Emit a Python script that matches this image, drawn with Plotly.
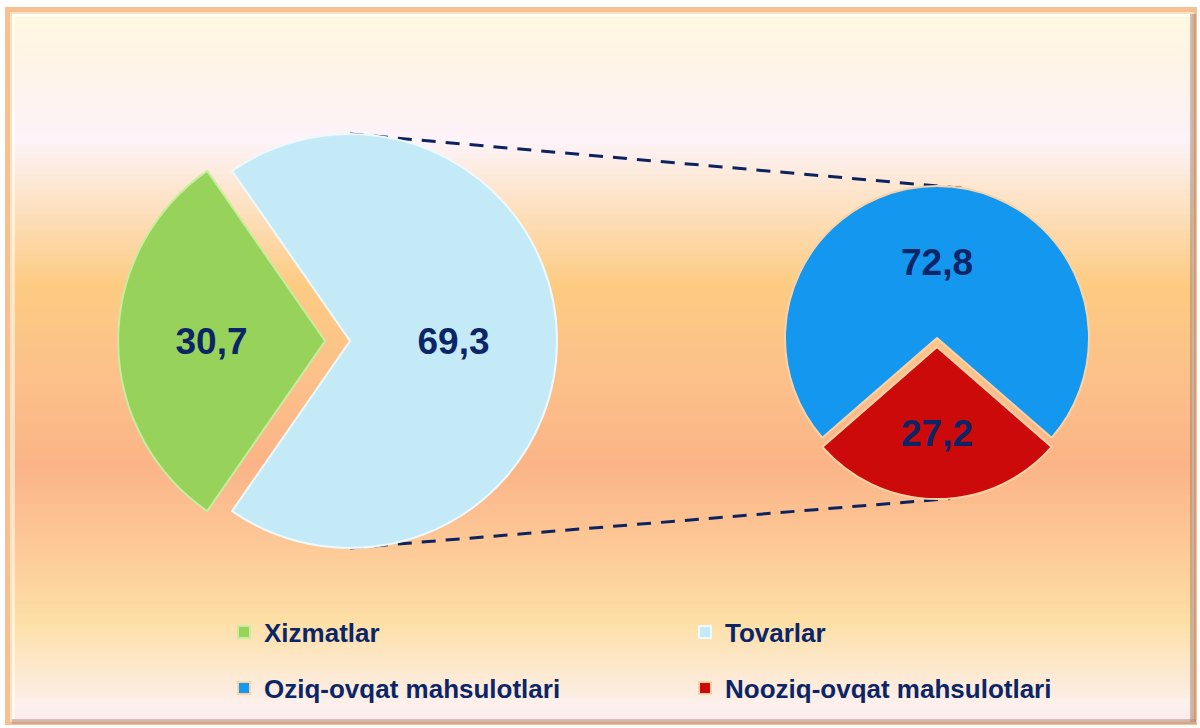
import math
import plotly.graph_objects as go

W, H = 1200, 728

# ---- data ----
main_labels = ["Xizmatlar", "Tovarlar"]
main_values = [30.7, 69.3]
sub_labels = ["Oziq-ovqat mahsulotlari", "Nooziq-ovqat mahsulotlari"]
sub_values = [72.8, 27.2]

main_colors = ["#97D35A", "#C4EAF8"]
sub_colors = ["#1497EE", "#CD0A0A"]
TEXT = "#0C2566"
FONT = "Liberation Sans, Arial, sans-serif"


def px_x(x):
    return x / W


def px_y(y):
    return 1 - y / H


# ---- geometry (pixel positions of the two pies) ----
L_CX, L_CY, L_R, L_PULL = 350, 341, 207, 0.12
R_CX, R_CY, R_R, R_PULL = 937, 338, 152, 0.06


def domain(cx, cy, r, pull):
    rm = r * (1 + pull)
    return dict(x=[px_x(cx - rm), px_x(cx + rm)], y=[px_y(cy + rm), px_y(cy - rm)])


main_frac = main_values[0] / sum(main_values)
sub_frac = sub_values[0] / sum(sub_values)

fig = go.Figure()
fig.add_trace(go.Pie(
    labels=main_labels, values=main_values, sort=False,
    direction="counterclockwise", rotation=270 - main_frac * 180,
    pull=[L_PULL, 0], domain=domain(L_CX, L_CY, L_R, L_PULL),
    marker=dict(colors=main_colors, line=dict(color=["#C9EC9F", "#EEF9FD"], width=2)),
    texttemplate="%{value:.1f}", textposition="inside",
    insidetextorientation="horizontal",
    textfont=dict(family=FONT, size=37, color=TEXT, weight="bold"),
    hoverinfo="label+value", legend="legend",
))
fig.add_trace(go.Pie(
    labels=sub_labels, values=sub_values, sort=False,
    direction="counterclockwise", rotation=-sub_frac * 180,
    pull=[0, R_PULL], domain=domain(R_CX, R_CY, R_R, R_PULL),
    marker=dict(colors=sub_colors, line=dict(color=["#FAD2A8", "#FAD2A8"], width=2)),
    texttemplate="%{value:.1f}", textposition="inside",
    insidetextorientation="horizontal",
    textfont=dict(family=FONT, size=37, color=TEXT, weight="bold"),
    hoverinfo="label+value", legend="legend2",
))

# ---- background frame + gradient ----
shapes = []


def rect(x0, y0, x1, y1, color):
    shapes.append(dict(type="rect", xref="paper", yref="paper",
                       x0=px_x(x0), x1=px_x(x1), y0=px_y(y1), y1=px_y(y0),
                       fillcolor=color, line=dict(width=0), layer="below"))


rect(5, 7, 1197, 725, "#F8BF90")
rect(10, 12, 1194, 722, "#FCE3C0")

stops = [
    (14, (255, 249, 224)),
    (60, (255, 244, 230)),
    (140, (253, 243, 249)),
    (200, (253, 227, 198)),
    (285, (253, 203, 130)),
    (380, (252, 192, 138)),
    (465, (251, 180, 135)),
    (540, (253, 199, 150)),
    (620, (253, 223, 165)),
    (705, (253, 240, 236)),
    (720, (250, 236, 236)),
]


def color_at(y):
    for (y0, c0), (y1, c1) in zip(stops[:-1], stops[1:]):
        if y0 <= y <= y1:
            t = (y - y0) / (y1 - y0)
            c = [round(a + (b - a) * t) for a, b in zip(c0, c1)]
            return "rgb(%d,%d,%d)" % tuple(c)
    return "rgb(%d,%d,%d)" % stops[-1][1]


step = 5
for y in range(14, 720, step):
    rect(12, y, 1192, min(y + step + 1, 720), color_at(y + step / 2))

# bevel highlights / shadows
rect(12, 14, 1192, 17, "rgba(255,255,255,0.75)")
rect(12, 14, 15, 720, "rgba(255,255,255,0.55)")
rect(1190, 14, 1196, 722, "rgba(150,115,105,0.45)")
rect(12, 719, 1196, 724, "rgba(170,130,135,0.45)")

# ---- dashed connector lines between the pies ----


def on_circle(cx, cy, r, phi_deg):
    a = math.radians(phi_deg)
    return cx + r * math.sin(a), cy - r * math.cos(a)


red_off = R_PULL * R_R
top_l = on_circle(L_CX, L_CY, L_R, 0)
top_r = on_circle(R_CX, R_CY, R_R, 10)
bot_l = on_circle(L_CX, L_CY, L_R, 180)
bot_r = on_circle(R_CX, R_CY + red_off, R_R, 175)
for (xa, ya), (xb, yb) in [(top_l, top_r), (bot_l, bot_r)]:
    shapes.append(dict(type="line", xref="paper", yref="paper",
                       x0=px_x(xa), y0=px_y(ya), x1=px_x(xb), y1=px_y(yb),
                       line=dict(color="#0D2360", width=3, dash="14px,10px"),
                       layer="below"))

legend_common = dict(
    orientation="h", xanchor="left", yanchor="middle",
    x=px_x(224), entrywidth=416, entrywidthmode="pixels",
    font=dict(family=FONT, size=26, color=TEXT, weight="bold"),
    bgcolor="rgba(0,0,0,0)", itemclick=False, itemdoubleclick=False,
)

fig.update_layout(
    width=W, height=H, margin=dict(l=0, r=0, t=0, b=0),
    paper_bgcolor="white", plot_bgcolor="rgba(0,0,0,0)",
    separators=", ",
    shapes=shapes,
    showlegend=True,
    legend=dict(legend_common, y=px_y(632)),
    legend2=dict(legend_common, y=px_y(688)),
)

fig.write_html(
    "out.html",
    config={"displayModeBar": False},
    post_script="document.body.style.margin='0';document.body.style.overflow='hidden';",
)
